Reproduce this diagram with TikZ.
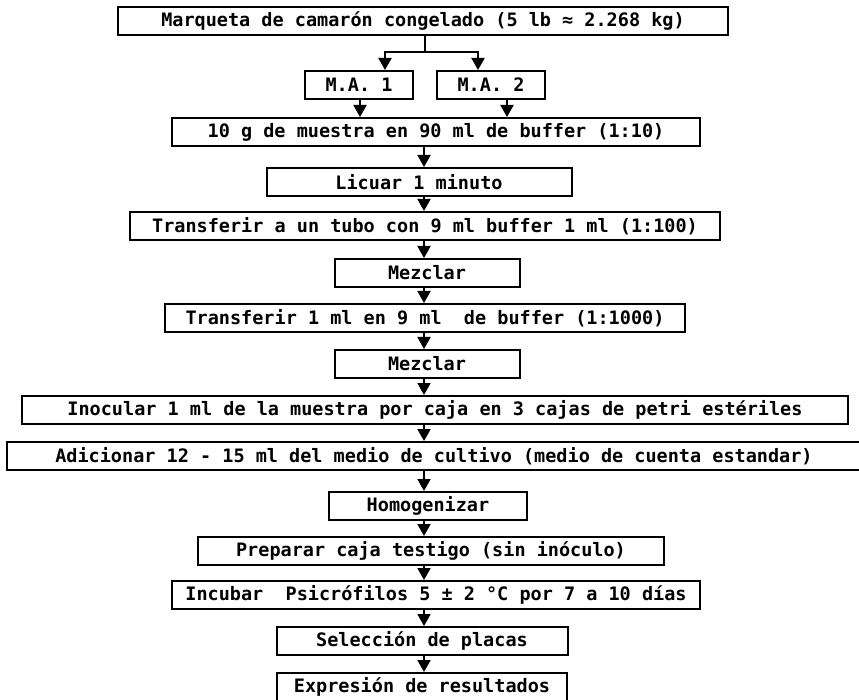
\documentclass[tikz,border=0pt]{standalone}
\usepackage{fontspec}
\usetikzlibrary{arrows.meta}
\newfontfamily\flowmono{DejaVu Sans Mono}

\tikzset{
  stepbox/.style={draw, line width=2pt, minimum height=28pt, inner sep=0pt,
    font=\flowmono\bfseries\fontsize{18.5}{20}\selectfont},
  link/.style={line width=2pt},
  arr/.style={line width=2pt, -{Triangle[length=12pt,width=13pt]}}
}

\begin{document}
\begin{tikzpicture}[x=1pt,y=1pt]
  \useasboundingbox (0,0) rectangle (859,-700);

  % main vertical axis and branch points
  \coordinate (ax) at (424,0);
  \coordinate (j)  at (425,-52);
  \coordinate (jL) at (385,-52);
  \coordinate (jR) at (478,-52);
  \coordinate (kL) at (360,0);
  \coordinate (kR) at (507,0);

  % process steps
  \node[stepbox, minimum width=610] (b1)  at (423,-21)  {Marqueta de camarón congelado (5 lb ≈ 2.268 kg)};
  \node[stepbox, minimum width=108] (ma1) at (359,-85)  {M.A. 1};
  \node[stepbox, minimum width=108] (ma2) at (491,-85)  {M.A. 2};
  \node[stepbox, minimum width=528] (b3)  at (436,-132) {10 g de muestra en 90 ml de buffer (1:10)};
  \node[stepbox, minimum width=305] (b4)  at (419,-182) {Licuar 1 minuto};
  \node[stepbox, minimum width=590] (b5)  at (425,-226) {Transferir a un tubo con 9 ml buffer 1 ml (1:100)};
  \node[stepbox, minimum width=185] (b6)  at (427,-273) {Mezclar};
  \node[stepbox, minimum width=520] (b7)  at (425,-318) {Transferir 1 ml en 9 ml\ \ de buffer (1:1000)};
  \node[stepbox, minimum width=185] (b8)  at (427,-364) {Mezclar};
  \node[stepbox, minimum width=826] (b9)  at (435,-410) {Inocular 1 ml de la muestra por caja en 3 cajas de petri estériles};
  \node[stepbox, minimum width=855] (b10) at (434,-456) {Adicionar 12 - 15 ml del medio de cultivo (medio de cuenta estandar)};
  \node[stepbox, minimum width=198] (b11) at (428,-506) {Homogenizar};
  \node[stepbox, minimum width=466] (b12) at (431,-551) {Preparar caja testigo (sin inóculo)};
  \node[stepbox, minimum width=528] (b13) at (436,-595) {Incubar\ \ Psicrófilos 5 ± 2 °C por 7 a 10 días};
  \node[stepbox, minimum width=291] (b14) at (422,-641) {Selección de placas};
  \node[stepbox, minimum width=290] (b15) at (422,-687) {Expresión de resultados};

  % split into the two analytical samples
  \draw[link] (b1.south -| j) -- (j);
  \draw[arr] (j) -| (ma1.north -| jL);
  \draw[arr] (j) -| (ma2.north -| jR);
  \draw[arr] (ma1.south -| kL) -- (b3.north -| kL);
  \draw[arr] (ma2.south -| kR) -- (b3.north -| kR);

  % straight chain of steps
  \foreach \a/\b in {b3/b4, b4/b5, b5/b6, b6/b7, b7/b8, b8/b9, b9/b10,
                     b10/b11, b11/b12, b12/b13, b13/b14, b14/b15}
    \draw[arr] (\a.south -| ax) -- (\b.north -| ax);
\end{tikzpicture}
\end{document}
